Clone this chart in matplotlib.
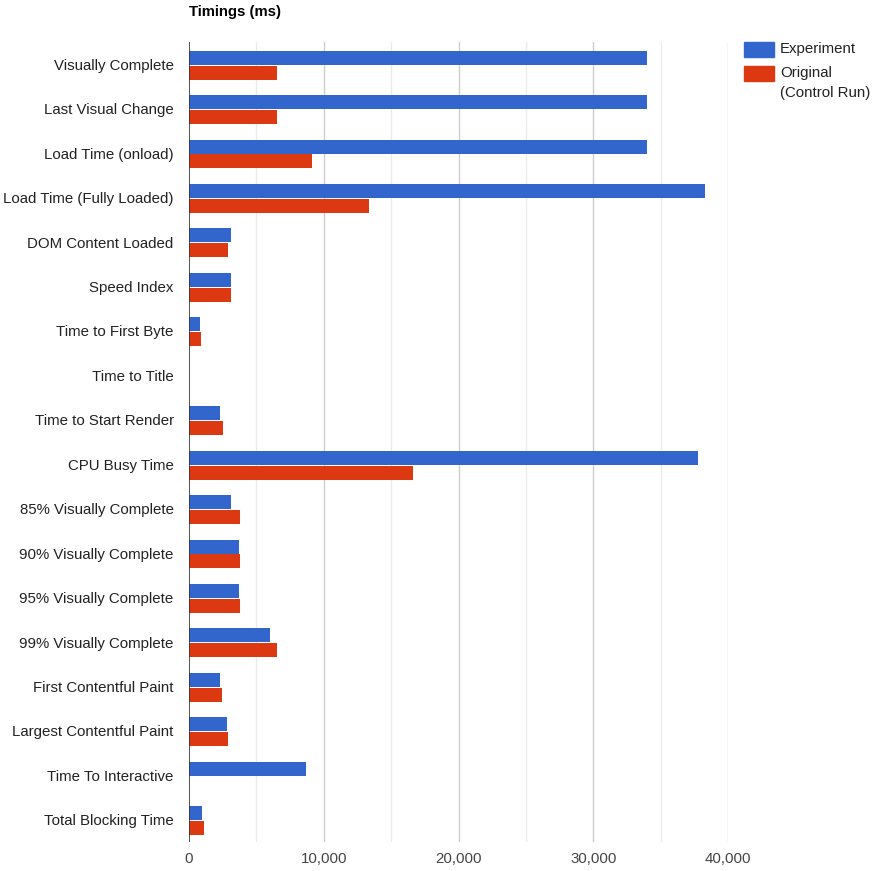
import matplotlib
matplotlib.use("Agg")
import matplotlib.pyplot as plt
import matplotlib.patches as mpatches
import numpy as np

plt.rcParams['font.family'] = ['Liberation Sans', 'DejaVu Sans']

# metric names, top to bottom
categories = [
    "Visually Complete", "Last Visual Change", "Load Time (onload)",
    "Load Time (Fully Loaded)", "DOM Content Loaded", "Speed Index",
    "Time to First Byte", "Time to Title", "Time to Start Render",
    "CPU Busy Time", "85% Visually Complete", "90% Visually Complete",
    "95% Visually Complete", "99% Visually Complete", "First Contentful Paint",
    "Largest Contentful Paint", "Time To Interactive", "Total Blocking Time",
]
experiment = [34000, 34000, 34000, 38300, 3100, 3100, 820, 30, 2300,
              37800, 3100, 3700, 3700, 6000, 2300, 2800, 8670, 960]
original = [6500, 6500, 9100, 13330, 2890, 3100, 890, 30, 2520,
            16600, 3780, 3780, 3780, 6500, 2440, 2890, 0, 1110]
xticks = [0, 10000, 20000, 30000, 40000]
xtick_labels = ["0", "10,000", "20,000", "30,000", "40,000"]

BLUE = "#3366cc"
RED = "#dc3912"
FS = 10.85

fig = plt.figure(figsize=(8.74, 8.71), dpi=100)
ax = fig.add_axes([189 / 874, 1 - 842 / 871, 539 / 874, 800 / 871])

y = np.arange(len(categories))
h = 0.315
ax.barh(y - h / 2 + 0.01, experiment, height=h, color=BLUE, zorder=3)
ax.barh(y + h / 2 + 0.03, original, height=h, color=RED, zorder=3)

ax.set_ylim(len(categories) - 0.5, -0.5)
ax.set_xlim(0, 40000)

# grid lines
for v in range(5000, 40001, 10000):
    ax.axvline(v, color="#ebebeb", lw=1, zorder=1)
for v in range(10000, 40001, 10000):
    ax.axvline(v, color="#cccccc", lw=1, zorder=1)
ax.axvline(0, color="#333333", lw=1.2, zorder=4)

for s in ax.spines.values():
    s.set_visible(False)

ax.set_yticks(y)
ax.set_yticklabels(categories, fontsize=FS, color="#222222")
ax.set_xticks(xticks)
ax.set_xticklabels(xtick_labels, fontsize=FS, color="#444444")
ax.tick_params(axis="both", length=0)
ax.tick_params(axis="y", pad=11)
ax.tick_params(axis="x", pad=7)

fig.text(189 / 874, 1 - 12 / 871, "Timings (ms)", fontsize=10.7,
         fontweight="bold", color="#000000", va="center", ha="left")

# legend drawn by hand
fig.patches.append(mpatches.Rectangle((744 / 874, 1 - 57 / 871), 30 / 874, 15 / 871,
                                      transform=fig.transFigure, color=BLUE))
fig.patches.append(mpatches.Rectangle((744 / 874, 1 - 81 / 871), 30 / 874, 15 / 871,
                                      transform=fig.transFigure, color=RED))
fig.text(780 / 874, 1 - 49 / 871, "Experiment", fontsize=FS, color="#222222", va="center")
fig.text(780 / 874, 1 - 73 / 871, "Original", fontsize=FS, color="#222222", va="center")
fig.text(780 / 874, 1 - 93 / 871, "(Control Run)", fontsize=FS, color="#222222", va="center")

fig.savefig("out.png", dpi=100)
